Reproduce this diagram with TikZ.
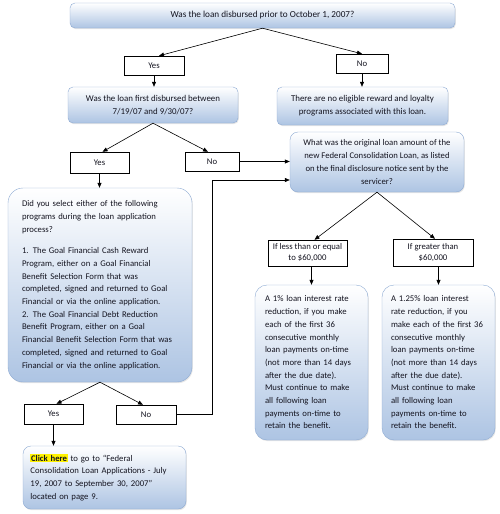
\documentclass[tikz,border=0pt]{standalone}
\usepackage{fontspec}
\setmainfont{Carlito}
\usepackage{tikz}
\usetikzlibrary{shapes,arrows.meta,positioning,shadows}
\definecolor{boxline}{HTML}{8DAAD3}
\definecolor{boxfill}{HTML}{ADC4E3}
\definecolor{txt}{HTML}{141420}
\tikzstyle{query} = [draw=boxline,rounded corners=5pt,top color=white,bottom color=boxfill,inner sep=0,text=txt,font=\fontsize{8.7}{12.7}\selectfont,drop shadow={opacity=0.2,shadow xshift=0.8pt,shadow yshift=-1.2pt}]
\tikzstyle{choice} = [draw,fill=white,inner sep=0,align=center,text=txt,font=\fontsize{8.7}{11}\selectfont]
\tikzstyle{flow} = [-{Triangle[length=5pt,width=4pt]},semithick]
\newcommand{\clickhere}{{\setlength{\fboxsep}{0.6pt}\colorbox{yellow}{\textbf{Click here}}}}

\begin{document}
\begin{tikzpicture}[x=1pt,y=-1pt]
      \useasboundingbox (0,0) rectangle (500,514);
      \node[query,minimum width=385,minimum height=25,font=\fontsize{9.2}{12}\selectfont] (q1) at (262.5,15.5) {Was the loan disbursed prior to October 1, 2007?};
      \node[choice,minimum width=60,minimum height=19] (y1) at (154,65.5) {Yes};
      \node[choice,minimum width=52,minimum height=19] (n1) at (362,63.5) {No};
      \node[query,align=center,minimum width=170,minimum height=36,font=\fontsize{8.9}{13.3}\selectfont] (q2) at (153,105) {Was the loan first disbursed between\\7/19/07 and 9/30/07?};
      \node[query,align=center,minimum width=171,minimum height=38,font=\fontsize{8.9}{13.3}\selectfont] (none) at (362.5,106) {There are no eligible reward and loyalty\\programs associated with this loan.};
      \node[choice,minimum width=59,minimum height=21] (y2) at (99.5,162.5) {Yes};
      \node[choice,minimum width=54,minimum height=19] (n2) at (212,161.5) {No};
      % left branch
      \node[query,rounded corners=15pt,align=left,text width=156,minimum width=184,minimum height=194] (q3) at (100,285) {Did you select either of the following\\programs during the loan application\\process?\\[9pt]1. The Goal Financial Cash Reward\\Program, either on a Goal Financial\\Benefit Selection Form that was\\completed, signed and returned to Goal\\Financial or via the online application.\\2. The Goal Financial Debt Reduction\\Benefit Program, either on a Goal\\Financial Benefit Selection Form that was\\completed, signed and returned to Goal\\Financial or via the online application.};
      \node[choice,minimum width=59,minimum height=20] (y3) at (53.5,414) {Yes};
      \node[choice,minimum width=60,minimum height=19] (n3) at (146,414.5) {No};
      \node[query,rounded corners=8pt,align=left,text width=148,minimum width=163,minimum height=63] (fin) at (104.5,477.5) {\clickhere{} to go to “Federal\\Consolidation Loan Applications - July\\19, 2007 to September 30, 2007”\\located on page 9.};
      % right branch
      \node[query,rounded corners=8pt,align=center,minimum width=174,minimum height=60,font=\fontsize{8.7}{12.8}\selectfont] (q4) at (377,162) {What was the original loan amount of the\\new Federal Consolidation Loan, as listed\\on the final disclosure notice sent by the\\servicer?};
      \node[choice,minimum width=79,minimum height=26] (lt) at (307.5,253) {If less than or equal\\to \$60,000};
      \node[choice,minimum width=80,minimum height=27] (gt) at (433,252.5) {If greater than\\\$60,000};
      \node[query,rounded corners=12pt,align=left,text width=93,minimum width=113,minimum height=155] (b1) at (311.5,362.5) {A 1\% loan interest rate\\reduction, if you make\\each of the first 36\\consecutive monthly\\loan payments on-time\\(not more than 14 days\\after the due date).\\Must continue to make\\all following loan\\payments on-time to\\retain the benefit.};
      \node[query,rounded corners=12pt,align=left,text width=95,minimum width=113,minimum height=155] (b2) at (438.5,362.5) {A 1.25\% loan interest\\rate reduction, if you\\make each of the first 36\\consecutive monthly\\loan payments on-time\\(not more than 14 days\\after the due date).\\Must continue to make\\all following loan\\payments on-time to\\retain the benefit.};
      \coordinate (turn) at (212,180);
      % connectors
      \draw[flow] (q1.south) -- ([xshift=5pt]y1.north);
      \draw[flow] (q1.south) -- (n1.north);
      \draw[flow] (y1.south) -- (y1.south |- q2.north);
      \draw[flow] (n1.south) -- (n1.south |- none.north);
      \draw[flow] (q2.south) -- ([xshift=3pt]y2.north);
      \draw[flow] (q2.south) -- ([xshift=-4pt]n2.north);
      \draw[flow] (y2.south) -- (y2.south |- q3.north);
      \draw[flow] (n2.east) -- (n2.east -| q4.west);
      \draw[flow] (n3.east) -| (turn) -- (turn -| q4.west);
      \draw[flow] (q3.south) -- ([xshift=3pt]y3.north);
      \draw[flow] (q3.south) -- ([xshift=-3pt]n3.north);
      \draw[flow] (y3.south) -- (y3.south |- fin.north);
      \draw[flow] (q4.south) -- ([xshift=7pt]lt.north);
      \draw[flow] (q4.south) -- ([xshift=2pt]gt.north);
      \draw[flow] (b1.north |- lt.south) -- (b1.north);
      \draw[flow] (b2.north |- gt.south) -- (b2.north);
    \end{tikzpicture}
\end{document}
